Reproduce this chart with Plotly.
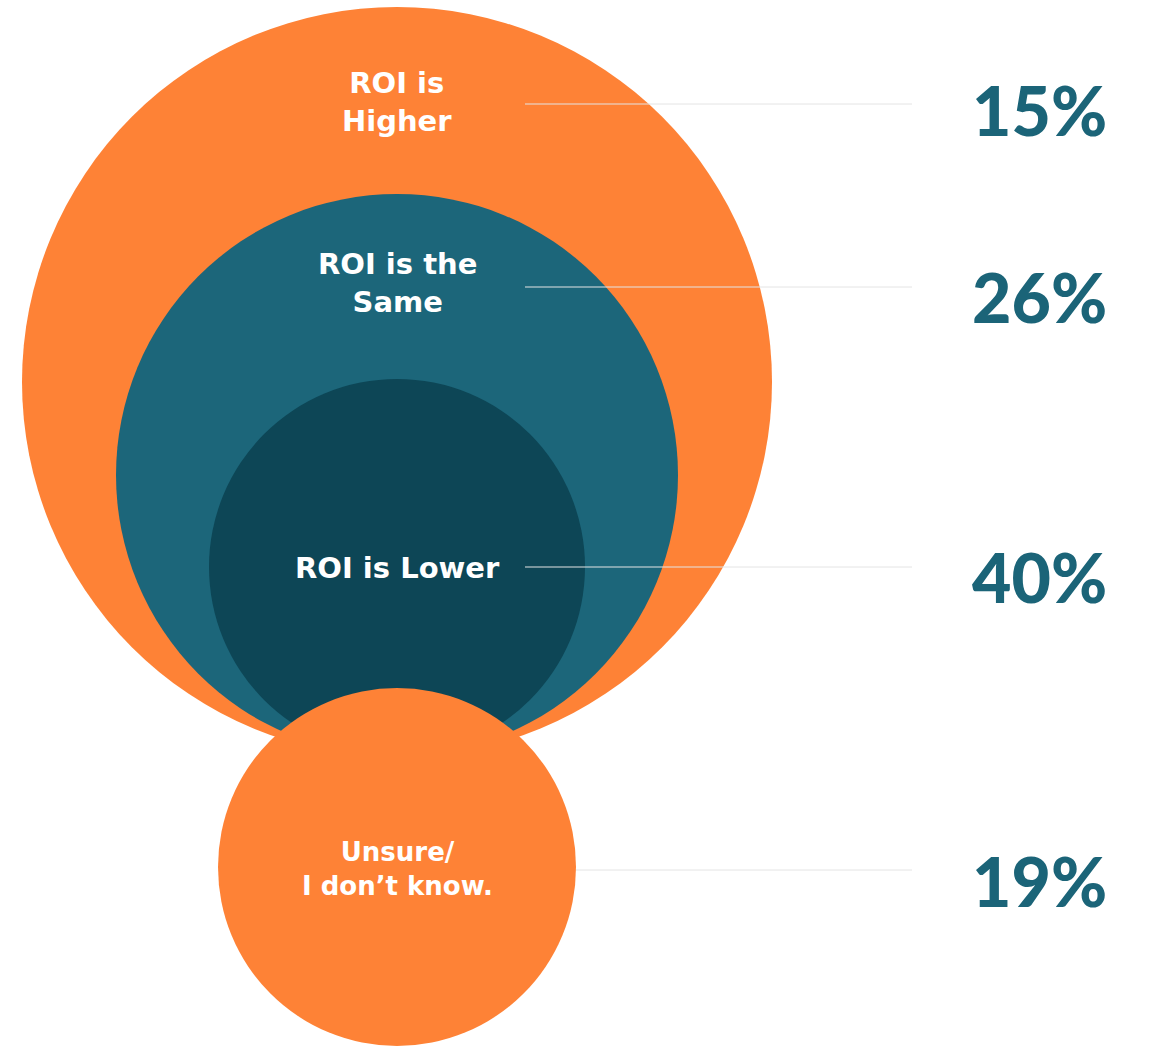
import plotly.graph_objects as go

# Survey answers: how ROI compares
categories = ["ROI is<br>Higher", "ROI is the<br>Same", "ROI is Lower", "Unsure/<br>I don’t know."]
shares = [15, 26, 40, 19]
pct_labels = [f"{v}%" for v in shares]

ORANGE = "#FE8236"
TEAL = "#1C667A"
DARK = "#0D4656"
PCT_COLOR = "#1B6478"

W, H = 1154, 1046

# Circle geometry (pixel space): centre x, centre y, radius, fill
circles = [
    (397, 382, 375, ORANGE),
    (397, 475, 281, TEAL),
    (397, 567, 188, DARK),
    (397, 867, 179, ORANGE),
]
label_y = [102, 283, 568, 869]
label_size = [29, 29, 29, 26]
line_y = [104, 287, 567, 870]
line_x0 = [525, 525, 525, 576]
pct_y = [109, 296, 576, 880]

fig = go.Figure()

shapes = []
for cx, cy, r, col in circles:
    shapes.append(dict(type="circle", xref="x", yref="y",
                       x0=cx - r, x1=cx + r, y0=cy - r, y1=cy + r,
                       fillcolor=col, line=dict(width=0), layer="below"))
for y, x0 in zip(line_y, line_x0):
    shapes.append(dict(type="line", xref="x", yref="y", x0=x0, x1=912, y0=y, y1=y,
                       line=dict(color="#E4E4E4", width=1), layer="above"))

annotations = []
for cat, y, sz in zip(categories, label_y, label_size):
    annotations.append(dict(x=397, y=y, xref="x", yref="y", text=cat, showarrow=False,
                            font=dict(family="DejaVu Sans", size=sz, color="white",
                                      weight="bold"),
                            align="center", xanchor="center", yanchor="middle"))
for lab, y in zip(pct_labels, pct_y):
    annotations.append(dict(x=970, y=y, xref="x", yref="y", text=lab, showarrow=False,
                            font=dict(family="Lato", size=68, color=PCT_COLOR, weight=900),
                            xanchor="left", yanchor="middle"))

fig.update_layout(
    width=W, height=H, margin=dict(l=0, r=0, t=0, b=0),
    paper_bgcolor="white", plot_bgcolor="white",
    xaxis=dict(range=[0, W], visible=False, fixedrange=True),
    yaxis=dict(range=[H, 0], visible=False, fixedrange=True),
    shapes=shapes, annotations=annotations, showlegend=False,
)

fig.write_html("out.html", config={"displayModeBar": False})
